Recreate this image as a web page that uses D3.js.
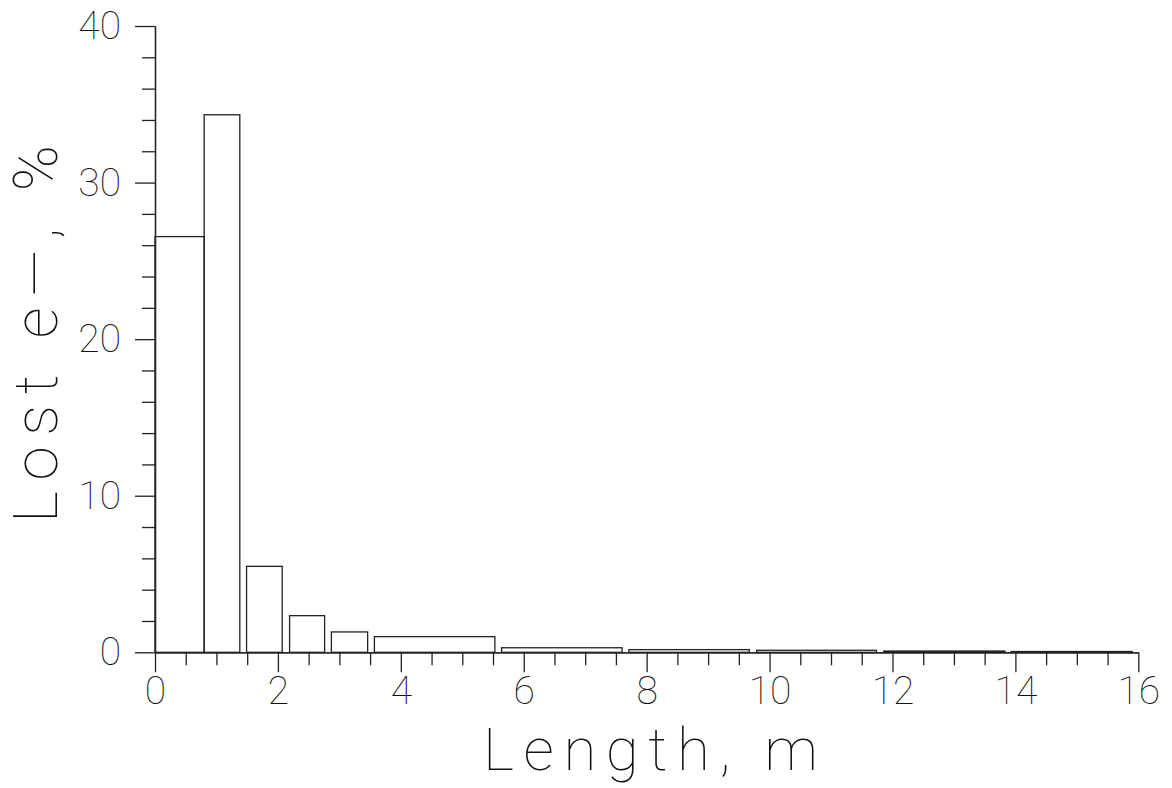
<!DOCTYPE html>
<html>
<head>
<title>Lost e- vs Length</title>
<style>
body { margin: 0; background: #fff; }
text { font-family: Roboto, Lato, sans-serif; font-weight: 100; fill: #111; }
</style>
</head>
<body>
<div id="chart"></div>
<script src="https://d3js.org/d3.v7.min.js"></script>
<script>
// bin edges (m) and lost fraction (%)
const binStart = [0, 0.8, 1.49, 2.19, 2.87, 3.57, 5.64, 7.71, 9.79, 11.86, 13.93];
const binEnd   = [0.8, 1.38, 2.07, 2.76, 3.46, 5.53, 7.60, 9.67, 11.74, 13.83, 15.90];
const lost     = [26.55, 34.33, 5.49, 2.34, 1.30, 1.0, 0.29, 0.17, 0.13, 0.08, 0.05];

const xMajor = [0, 2, 4, 6, 8, 10, 12, 14, 16];
const yMajor = [0, 10, 20, 30, 40];

const width = 1172, height = 788;
const svg = d3.select("#chart").append("svg")
  .attr("width", width).attr("height", height);

const x = d3.scaleLinear().domain([0, 16]).range([155, 1138.3]);
const y = d3.scaleLinear().domain([0, 40]).range([652.3, 26]);

const ink = "#222";

// Bars
const bins = binStart.map((s, i) => ({ s: s, e: binEnd[i], v: lost[i] }));
svg.append("g").selectAll("rect")
  .data(bins)
  .join("rect")
    .attr("x", d => x(d.s))
    .attr("y", d => y(d.v))
    .attr("width", d => x(d.e) - x(d.s))
    .attr("height", d => y(0) - y(d.v))
    .attr("fill", "none")
    .attr("stroke", ink)
    .attr("stroke-width", 1.3);

// X axis: minor then major ticks
const xMinor = d3.range(0, 16.01, 0.5).filter(v => v % 2 !== 0);
const gxMinor = svg.append("g").attr("transform", `translate(0,${y(0)})`)
  .call(d3.axisBottom(x).tickValues(xMinor).tickSize(13).tickSizeOuter(0).tickFormat(""));
const gx = svg.append("g").attr("transform", `translate(0,${y(0)})`)
  .call(d3.axisBottom(x).tickValues(xMajor).tickSize(20).tickSizeOuter(0));

// Y axis
const yMinor = d3.range(0, 40.01, 2).filter(v => v % 10 !== 0);
const gyMinor = svg.append("g").attr("transform", `translate(${x(0)},0)`)
  .call(d3.axisLeft(y).tickValues(yMinor).tickSize(13).tickSizeOuter(0).tickFormat(""));
const gy = svg.append("g").attr("transform", `translate(${x(0)},0)`)
  .call(d3.axisLeft(y).tickValues(yMajor).tickSize(20).tickSizeOuter(0).tickPadding(14));

[gxMinor, gx, gyMinor, gy].forEach(g => {
  g.selectAll("path, line").attr("stroke", ink).attr("stroke-width", 1.3);
});
gx.selectAll("text")
  .attr("font-size", 39).attr("dy", "0.36em")
  .attr("y", 38);
gy.selectAll("text")
  .attr("font-size", 39);

// Axis titles
svg.append("text")
  .attr("x", 483).attr("y", 770)
  .attr("font-size", 60)
  .attr("textLength", 335).attr("lengthAdjust", "spacing")
  .text("Length,  m");

svg.append("text")
  .attr("transform", "translate(57,523) rotate(-90)")
  .attr("font-size", 62)
  .attr("textLength", 378).attr("lengthAdjust", "spacing")
  .text("Lost e—, %");
</script>
</body>
</html>
